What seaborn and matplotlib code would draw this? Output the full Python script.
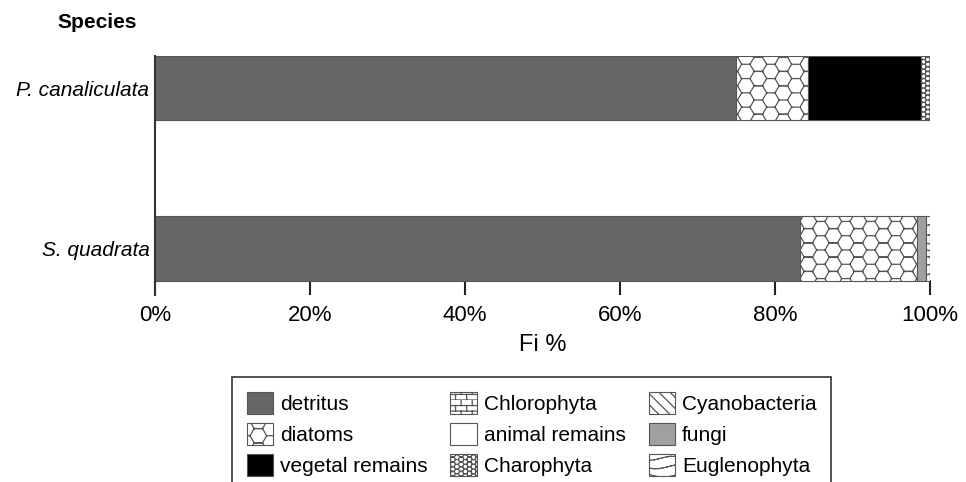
import warnings
import numpy as np
import pandas as pd
import matplotlib
matplotlib.use("Agg")
import matplotlib.pyplot as plt
import matplotlib.hatch as mhatch
from matplotlib.path import Path
from matplotlib.patches import Patch
import seaborn as sns

warnings.filterwarnings("ignore")

# Data (Fi %)
species = ['P. canaliculata', 'S. quadrata']
categories = ['detritus', 'diatoms', 'vegetal remains',
              'Chlorophyta', 'animal remains', 'Charophyta',
              'Cyanobacteria', 'fungi', 'Euglenophyta']
p_canaliculata = [75.0, 9.3, 14.5, 0, 0, 1.2, 0, 0, 0]
s_quadrata = [83.2, 15.1, 0, 0, 0, 0, 0, 1.2, 0.5]


# custom hatches: honeycomb ('h'), bricks ('b'), waves ('w')
class HexHatch(mhatch.HatchPatternBase):
    def __init__(self, hatch, density):
        n = hatch.count('h')
        self.cols, self.rows = 4 * n, 7 * n
        self.num_vertices = 14 * self.cols * self.rows if n else 0

    def set_vertices_and_codes(self, vertices, codes):
        h = np.sqrt(3)
        seg = np.array([[0, h / 2], [0.5, 0], [0.5, 0], [1.5, 0],
                        [1.5, 0], [2, h / 2], [2, h / 2], [1.5, h],
                        [1.5, h], [0.5, h], [0.5, h], [0, h / 2],
                        [2, h / 2], [3, h / 2]])
        seg = seg / [3 * self.cols, h * self.rows]
        out = []
        for i in range(self.cols):
            for j in range(self.rows):
                out.append(seg + [i / self.cols, j / self.rows])
        vertices[:] = np.concatenate(out)
        codes[0::2] = Path.MOVETO
        codes[1::2] = Path.LINETO


class BrickHatch(mhatch.HatchPatternBase):
    def __init__(self, hatch, density):
        n = hatch.count('b')
        self.cols, self.rows = 9 * n, 18 * n
        self.num_vertices = (2 + 2 * self.cols) * self.rows if n else 0

    def set_vertices_and_codes(self, vertices, codes):
        out = []
        for j in range(self.rows):
            y0, y1 = j / self.rows, (j + 1) / self.rows
            out += [[0, y0], [1, y0]]
            off = 0.5 * (j % 2)
            for i in range(self.cols):
                x = (i + off) / self.cols
                out += [[x, y0], [x, y1]]
        vertices[:] = np.array(out)
        codes[0::2] = Path.MOVETO
        codes[1::2] = Path.LINETO


class WaveHatch(mhatch.HatchPatternBase):
    def __init__(self, hatch, density):
        n = hatch.count('w')
        self.rows, self.steps = 12 * n, 24
        self.num_vertices = 2 * self.steps * self.rows if n else 0

    def set_vertices_and_codes(self, vertices, codes):
        xs = np.linspace(0, 1, self.steps + 1)
        out = []
        for j in range(self.rows):
            ys = j / self.rows + 0.25 / self.rows * np.sin(2 * np.pi * 2 * xs + j)
            pts = np.column_stack([xs, ys])
            for k in range(self.steps):
                out += [pts[k], pts[k + 1]]
        vertices[:] = np.array(out)
        codes[0::2] = Path.MOVETO
        codes[1::2] = Path.LINETO


mhatch._hatch_types += [HexHatch, BrickHatch, WaveHatch]

styles = {
    'detritus':        dict(color='#666666', hatch=None),
    'diatoms':         dict(color='white', hatch='h'),
    'vegetal remains': dict(color='black', hatch=None),
    'Chlorophyta':     dict(color='white', hatch='b'),
    'animal remains':  dict(color='white', hatch=None),
    'Charophyta':      dict(color='white', hatch='hhh'),
    'Cyanobacteria':   dict(color='white', hatch='\\\\\\'),
    'fungi':           dict(color='#a0a0a0', hatch=None),
    'Euglenophyta':    dict(color='white', hatch='w'),
}

sns.set_style('white')
plt.rcParams['font.family'] = ['Liberation Sans', 'DejaVu Sans']
plt.rcParams['text.color'] = 'black'
plt.rcParams['axes.labelcolor'] = 'black'
plt.rcParams['xtick.labelcolor'] = 'black'
plt.rcParams['ytick.labelcolor'] = 'black'
plt.rcParams['hatch.linewidth'] = 0.9
plt.rcParams['hatch.color'] = '#333333'

# long table with the left edge of every stacked segment
rows = []
for sp, vals in zip(species, [p_canaliculata, s_quadrata]):
    left = 0.0
    for cat, v in zip(categories, vals):
        rows.append(dict(species=sp, category=cat, value=v, left=left))
        left += v
df = pd.DataFrame(rows)

fig = plt.figure(figsize=(9.66, 4.82), dpi=100)
ax = fig.add_axes([0.1605, 0.388, 0.8022, 0.4958])

for cat in categories:
    sub = df[(df.category == cat) & (df.value > 0)]
    if sub.empty:
        continue
    st = styles[cat]
    sns.barplot(data=sub, x='value', y='species', order=species, orient='h',
                color=st['color'], hatch=st['hatch'], saturation=1,
                edgecolor='#555555', linewidth=0.8, width=0.4,
                left=sub['left'].values, ax=ax)

ax.set_xlim(0, 100)
ax.set_ylim(1.29, -0.2)
ax.set_xticks([0, 20, 40, 60, 80, 100])
ax.set_xticklabels([f'{t}%' for t in [0, 20, 40, 60, 80, 100]], fontsize=16)
ax.tick_params(axis='x', direction='in', length=11, width=1.5,
               color='#222222', labelcolor='black', pad=7, bottom=True)
ax.tick_params(axis='y', length=0, pad=4, labelcolor='black')
for lab in ax.get_yticklabels():
    lab.set_fontstyle('italic')
    lab.set_fontsize(15)
ax.set_ylabel('')
ax.set_xlabel('Fi %', fontsize=17, labelpad=6, color='black')
for s in ['top', 'right', 'bottom']:
    ax.spines[s].set_visible(False)
ax.spines['left'].set_color('#333333')
ax.spines['left'].set_linewidth(1.5)

fig.text(97 / 966, 1 - 22 / 482, 'Species', fontsize=15, fontweight='bold',
         ha='center', va='center', color='black')

handles = [Patch(facecolor=styles[c]['color'], hatch=styles[c]['hatch'],
                 edgecolor='#555555', linewidth=0.8, label=c)
           for c in categories]
leg = fig.legend(handles=handles, ncol=3, loc='upper left',
                 bbox_to_anchor=(232 / 966, 1 - 377 / 482),
                 fontsize=15, frameon=True, fancybox=False, framealpha=1,
                 edgecolor='#333333', handlelength=1.25, handleheight=1.25,
                 handletextpad=0.35, labelspacing=0.45, columnspacing=1.1,
                 borderpad=0.7, borderaxespad=0, labelcolor='black')
leg.get_frame().set_linewidth(1.2)

fig.savefig('out.png', dpi=100)
